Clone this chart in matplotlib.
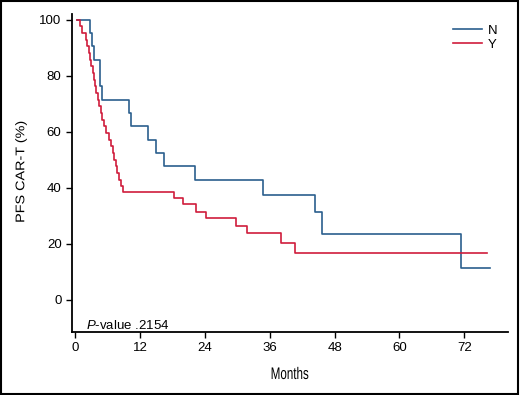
import numpy as np
import matplotlib
matplotlib.use("Agg")
import matplotlib.pyplot as plt
from matplotlib.patches import Rectangle, PathPatch
from matplotlib.textpath import TextPath
from matplotlib.font_manager import FontProperties
from matplotlib.transforms import Affine2D, IdentityTransform

plt.rcParams['font.family'] = ['Liberation Sans', 'DejaVu Sans']
plt.rcParams['mathtext.fontset'] = 'custom'
plt.rcParams['mathtext.it'] = 'Liberation Sans:italic'
plt.rcParams['mathtext.rm'] = 'Liberation Sans'

# Kaplan-Meier steps (months, % after each drop)
n_times = [0.25, 2.7, 3.1, 3.5, 4.5, 4.6, 5.0, 10.0, 10.3, 13.4, 15.0, 16.5,
           22.2, 34.8, 44.4, 45.6, 71.4, 76.8]
n_surv = [100, 95.2, 90.5, 85.7, 81.0, 76.2, 71.4, 66.7, 61.9, 57.1, 52.4, 47.6,
          42.7, 37.4, 31.2, 23.5, 11.5, 11.5]

y_times = [0.25, 0.9, 1.3, 1.9, 2.2, 2.5, 2.7, 2.9, 3.2, 3.4, 3.7, 3.9, 4.2,
           4.4, 4.7, 5.0, 5.3, 5.7, 6.2, 6.6, 7.0, 7.2, 7.5, 7.8, 8.1, 8.4,
           8.9, 18.3, 19.9, 22.3, 24.2, 29.8, 31.7, 38.0, 40.7, 76.2]
y_surv = [100, 97.6, 95.2, 92.9, 90.5, 88.1, 85.7, 83.3, 81.0, 78.6, 76.2,
          73.8, 71.4, 69.0, 66.7, 64.3, 61.9, 59.5, 57.1, 54.8, 52.4, 50.0,
          47.6, 45.2, 42.9, 40.5, 38.5, 36.2, 34.1, 31.2, 29.1, 26.4, 23.7,
          20.2, 16.8, 16.8]

xticks = [0, 12, 24, 36, 48, 60, 72]
yticks = [0, 20, 40, 60, 80, 100]

blue = '#2b5f8e'
red = '#d01c3c'

W, H = 520, 395
fig = plt.figure(figsize=(W / 100, H / 100), dpi=100)
ax = fig.add_axes([0.1385, 0.1595, 0.8375, 0.805])

ax.step(n_times, n_surv, where='post', color=blue, lw=1.2, label='N')
ax.step(y_times, y_surv, where='post', color=red, lw=1.2, label='Y')

ax.set_xlim(-0.6, 80)
ax.set_ylim(-11.5, 102)
ax.set_xticks(xticks)
ax.set_yticks(yticks)
ax.spines['top'].set_visible(False)
ax.spines['right'].set_visible(False)
for s in ['left', 'bottom']:
    ax.spines[s].set_linewidth(1.3)
ax.tick_params(direction='out', length=4, width=1, labelsize=9.5, colors='black')

ax.text(2.0, -10.5, r'$\it{P}$-value .2154', fontsize=9.5)

ax.legend(loc='upper right', frameon=False, fontsize=9.5, handlelength=2.2,
          handletextpad=0.5, labelspacing=0.15, bbox_to_anchor=(1.005, 1.005))


# condensed labels: glyph outlines fitted into a box (pixels, from top-left)
def narrow_text(s, cx, cy, w, h, rot=0):
    tp = TextPath((0, 0), s, size=20, prop=FontProperties(family='Liberation Sans'))
    ext = tp.get_extents()
    tr = (Affine2D().translate(-(ext.x0 + ext.x1) / 2, -(ext.y0 + ext.y1) / 2)
          .scale(w / ext.width, h / ext.height).rotate_deg(rot).translate(cx, H - cy))
    fig.patches.append(PathPatch(tr.transform_path(tp), transform=IdentityTransform(),
                                 facecolor='black', edgecolor='none'))


narrow_text('Months', 290, 373, 36.7, 12.3)
narrow_text('PFS CAR-T (%)', 21, 171.7, 100, 11.7, rot=90)

fig.patches.append(Rectangle((0.001, 0.002), 0.996, 0.995, transform=fig.transFigure,
                             fill=False, edgecolor='black', lw=1.5))

fig.savefig('out.png', dpi=100)
